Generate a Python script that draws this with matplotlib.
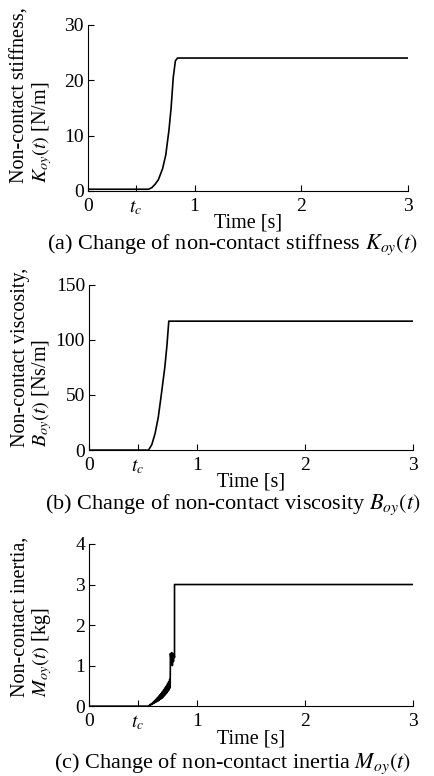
import matplotlib
matplotlib.use("Agg")
import matplotlib.pyplot as plt

plt.rcParams['font.family'] = ['Liberation Serif', 'DejaVu Serif']
plt.rcParams['mathtext.fontset'] = 'stix'

tc = 0.45
time_ticks = [0, tc, 1, 2, 3]
time_labels = ['0', '$t_c$', '1', '2', '3']

# (a) non-contact stiffness
t_k = [0, 0.57, 0.60, 0.63, 0.66, 0.70, 0.73, 0.76, 0.78, 0.80, 0.82, 0.84, 3.0]
k_oy = [0.3, 0.3, 0.6, 1.2, 2.0, 4.0, 6.5, 11.0, 15.0, 20.5, 23.5, 24.0, 24.0]

# (b) non-contact viscosity
t_b = [0, 0.55, 0.58, 0.61, 0.64, 0.67, 0.70, 0.72, 0.737, 3.0]
b_oy = [0, 0, 5, 15, 30, 52, 75, 95, 117, 117]

# (c) non-contact inertia (chattering while approaching)
t_m = [0, 0.550, 0.555, 0.560, 0.565, 0.570, 0.575, 0.580, 0.585, 0.590,
       0.595, 0.600, 0.605, 0.610, 0.615, 0.620, 0.625, 0.630, 0.635, 0.640,
       0.645, 0.650, 0.655, 0.660, 0.665, 0.670, 0.675, 0.680, 0.685, 0.690,
       0.695, 0.700, 0.705, 0.710, 0.715, 0.720, 0.725, 0.730, 0.735, 0.740,
       0.745, 0.750, 0.752, 0.760, 0.765, 0.770, 0.775, 0.780, 0.785, 0.790,
       0.790, 3.0]
m_oy = [0, 0.00, 0.02, 0.01, 0.04, 0.03, 0.06, 0.04, 0.08, 0.06,
        0.11, 0.07, 0.13, 0.09, 0.16, 0.10, 0.19, 0.12, 0.22, 0.13,
        0.25, 0.15, 0.28, 0.17, 0.31, 0.19, 0.35, 0.21, 0.38, 0.24,
        0.42, 0.27, 0.46, 0.30, 0.50, 0.33, 0.55, 0.37, 0.60, 0.40,
        0.66, 0.45, 1.30, 1.05, 1.32, 1.00, 1.25, 1.10, 1.30, 1.20,
        3.0, 3.0]

panels = [
    dict(t=t_k, y=k_oy, ylim=30, yticks=[0, 10, 20, 30],
         ylabel='Non-contact stiffness,\n$K_{oy}(t)$ [N/m]',
         caption='(a) Change of non-contact stiffness $K_{oy}(t)$',
         rect=[0.202, 0.754, 0.736, 0.214], lab=(-0.106, 0.578), cap_y=0.684),
    dict(t=t_b, y=b_oy, ylim=150, yticks=[0, 50, 100, 150],
         ylabel='Non-contact viscosity,\n$B_{oy}(t)$ [Ns/m]',
         caption='(b) Change of non-contact viscosity $B_{oy}(t)$',
         rect=[0.205, 0.420, 0.745, 0.213], lab=(-0.11, 0.56), cap_y=0.350),
    dict(t=t_m, y=m_oy, ylim=4, yticks=[0, 1, 2, 3, 4],
         ylabel='Non-contact inertia,\n$M_{oy}(t)$ [kg]',
         caption='(c) Change of non-contact inertia $M_{oy}(t)$',
         rect=[0.205, 0.090, 0.745, 0.209], lab=(-0.11, 0.55), cap_y=0.016),
]

fig = plt.figure(figsize=(4.35, 7.76), dpi=100)
for p in panels:
    ax = fig.add_axes(p['rect'])
    ax.plot(p['t'], p['y'], color='black', lw=1.2)
    ax.set_xlim(0, 3)
    ax.set_ylim(0, p['ylim'])
    ax.set_yticks(p['yticks'])
    ax.set_xticks(time_ticks)
    ax.set_xticklabels(time_labels)
    ax.spines['top'].set_visible(False)
    ax.spines['right'].set_visible(False)
    ax.tick_params(direction='in', length=4, labelsize=14)
    ax.tick_params(axis='x', pad=5)
    ax.tick_params(axis='y', pad=3)
    ax.set_xlabel('Time [s]', fontsize=14.5, labelpad=-2)
    ax.set_ylabel(p['ylabel'], fontsize=14.5, linespacing=1.0,
                  multialignment='left')
    ax.yaxis.set_label_coords(*p['lab'])
    fig.text(0.535, p['cap_y'], p['caption'], fontsize=16, ha='center', va='center')

fig.savefig('out.png', dpi=100)
